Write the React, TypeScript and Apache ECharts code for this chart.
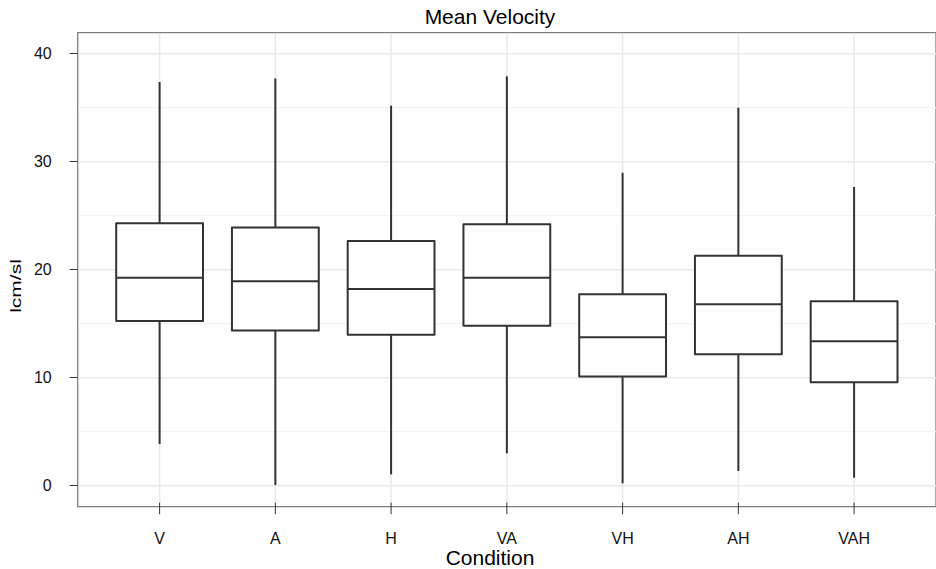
import React, { useEffect, useRef } from 'react';
import * as echarts from 'echarts';

const categories = ['V', 'A', 'H', 'VA', 'VH', 'AH', 'VAH'];
const whiskerLow = [3.86, 0.06, 1.05, 3.0, 0.22, 1.36, 0.74];
const q1 = [15.25, 14.36, 13.98, 14.82, 10.1, 12.17, 9.58];
const median = [19.26, 18.92, 18.21, 19.26, 13.74, 16.8, 13.38];
const q3 = [24.3, 23.9, 22.66, 24.2, 17.72, 21.3, 17.08];
const whiskerHigh = [37.38, 37.7, 35.19, 37.9, 28.98, 35.0, 27.66];
const yTicks = [0, 10, 20, 30, 40];
const yMinorTicks = [5, 15, 25, 35];
const chartTitle = 'Mean Velocity';
const xTitle = 'Condition';
const yTitle = 'lcm/sl';

const FONT = '"Liberation Sans", Arial, Helvetica, sans-serif';
const positions = categories.map((_, i) => i + 1);

export default function App() {
  const ref = useRef<HTMLDivElement>(null);
  useEffect(() => {
    if (!ref.current) return;
    const chart = echarts.init(ref.current, undefined, { renderer: 'svg' });
    const boxData = categories.map((_, i) => [positions[i], whiskerLow[i], q1[i], median[i], q3[i], whiskerHigh[i]]);
    const hLine = (color: string, width: number) => (params: any, api: any) => {
      const cs = params.coordSys;
      const p = api.coord([1, api.value(1)]);
      return {
        type: 'line',
        silent: true,
        shape: { x1: cs.x + 1, y1: p[1], x2: cs.x + cs.width, y2: p[1] },
        style: { stroke: color, lineWidth: width },
      };
    };
    const option: any = {
      animation: false,
      backgroundColor: '#ffffff',
      textStyle: { fontFamily: FONT },
      grid: {
        left: 77.7,
        top: 32.7,
        width: 865.6,
        height: 474,
        show: true,
        borderColor: '#7f7f7f',
        borderWidth: 1.3,
        backgroundColor: 'transparent',
      },
      xAxis: {
        type: 'value',
        min: 0.2924,
        max: 7.7076,
        axisLine: { show: false },
        splitLine: { show: false },
        axisTick: { show: false },
        axisLabel: {
          show: true,
          customValues: positions,
          margin: 24,
          fontSize: 16,
          color: '#111111',
          fontFamily: FONT,
          formatter: (v: number) => categories[Math.round(v) - 1] ?? '',
        },
      },
      yAxis: {
        type: 'value',
        min: -1.944,
        max: 41.944,
        axisLine: { show: false },
        splitLine: { show: false },
        axisTick: {
          show: true,
          customValues: yTicks,
          length: 8,
          lineStyle: { color: '#333333', width: 1 },
        },
        axisLabel: {
          show: true,
          customValues: yTicks,
          margin: 26,
          fontSize: 16,
          color: '#111111',
          fontFamily: FONT,
        },
      },
      graphic: [
        {
          type: 'text',
          x: 490,
          y: 16,
          style: { text: chartTitle, fontSize: 21, fontFamily: FONT, fill: '#000', align: 'center', verticalAlign: 'middle' },
        },
        {
          type: 'text',
          x: 490,
          y: 557,
          style: { text: xTitle, fontSize: 21, fontFamily: FONT, fill: '#000', align: 'center', verticalAlign: 'middle' },
        },
        {
          type: 'text',
          x: 16.2,
          y: 286,
          rotation: Math.PI / 2,
          scaleY: 0.66,
          style: { text: yTitle, fontSize: 21, fontFamily: FONT, fill: '#000', align: 'center', verticalAlign: 'middle' },
        },
      ],
      series: [
        {
          type: 'custom',
          name: 'minor',
          z: 1,
          silent: true,
          data: yMinorTicks.map((v) => [1, v]),
          encode: { x: 0, y: 1 },
          renderItem: hLine('#f3f3f3', 1.3),
        },
        {
          type: 'custom',
          name: 'major',
          z: 1,
          silent: true,
          data: yTicks.map((v) => [1, v]),
          encode: { x: 0, y: 1 },
          renderItem: hLine('#e9e9e9', 1.5),
        },
        {
          type: 'custom',
          name: 'vmajor',
          z: 1,
          silent: true,
          clip: false,
          data: positions.map((p) => [p, 0]),
          encode: { x: 0, y: 1 },
          renderItem: (params: any, api: any) => {
            const cs = params.coordSys;
            const p = api.coord([api.value(0), 0]);
            const bottom = cs.y + cs.height;
            return {
              type: 'group',
              children: [
                {
                  type: 'line',
                  silent: true,
                  shape: { x1: p[0], y1: cs.y + 1, x2: p[0], y2: bottom - 1 },
                  style: { stroke: '#e9e9e9', lineWidth: 1.5 },
                },
                {
                  type: 'line',
                  silent: true,
                  z2: 10,
                  shape: { x1: p[0], y1: bottom - 4, x2: p[0], y2: bottom + 7.5 },
                  style: { stroke: '#333333', lineWidth: 1 },
                },
              ],
            };
          },
        },
        {
          type: 'custom',
          name: 'boxes',
          z: 3,
          data: boxData,
          encode: { x: 0, y: [1, 2, 3, 4, 5] },
          renderItem: (params: any, api: any) => {
            const x = api.value(0);
            const lo = api.coord([x, api.value(1)]);
            const b1 = api.coord([x, api.value(2)]);
            const md = api.coord([x, api.value(3)]);
            const b3 = api.coord([x, api.value(4)]);
            const hi = api.coord([x, api.value(5)]);
            const half = api.size([0.75, 0])[0] / 2;
            const stroke = '#333333';
            const lw = 2;
            return {
              type: 'group',
              children: [
                { type: 'line', shape: { x1: lo[0], y1: lo[1], x2: b1[0], y2: b1[1] }, style: { stroke, lineWidth: lw } },
                { type: 'line', shape: { x1: b3[0], y1: b3[1], x2: hi[0], y2: hi[1] }, style: { stroke, lineWidth: lw } },
                {
                  type: 'rect',
                  shape: { x: b3[0] - half, y: b3[1], width: half * 2, height: b1[1] - b3[1] },
                  style: { fill: '#ffffff', stroke, lineWidth: lw, lineJoin: 'round' },
                },
                { type: 'line', shape: { x1: md[0] - half, y1: md[1], x2: md[0] + half, y2: md[1] }, style: { stroke, lineWidth: lw } },
              ],
            };
          },
        },
      ],
    };
    chart.setOption(option);
    return () => chart.dispose();
  }, []);
  return <div ref={ref} style={{ position: 'fixed', left: 0, top: 0, width: 936, height: 569, background: '#fff' }} />;
}
